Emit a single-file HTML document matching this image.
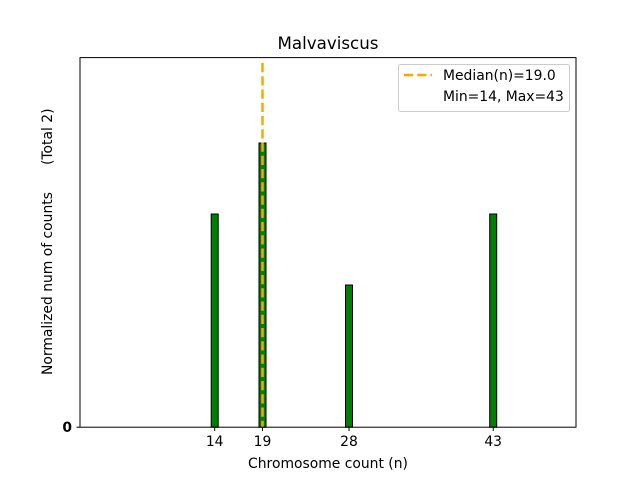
<!DOCTYPE html>
<html><head><meta charset="utf-8"><style>
body{margin:0;background:#fff;}
svg{display:block;font-family:"DejaVu Sans","Liberation Sans",sans-serif;}
</style></head><body>
<svg width="640" height="480" viewBox="0 0 640 480" xmlns="http://www.w3.org/2000/svg">
<rect width="640" height="480" fill="#fff"/>
<text x="328" y="49" font-size="16.7" text-anchor="middle" fill="#000">Malvaviscus</text>
<g fill="#008000" stroke="#000" stroke-width="1">
<rect x="211.2" y="214" width="7" height="213.2"/>
<rect x="259" y="143" width="7" height="284.2"/>
<rect x="345.5" y="285" width="7" height="142.2"/>
<rect x="489.7" y="214" width="7" height="213.2"/>
</g>
<line x1="262.5" y1="63" x2="262.5" y2="427" stroke="#FFA500" stroke-width="2.5" stroke-dasharray="9.25,4"/>
<rect x="80" y="57.6" width="496" height="369.6" fill="none" stroke="#000" stroke-width="1"/>
<g stroke="#000" stroke-width="1">
<line x1="76.5" y1="427.2" x2="80" y2="427.2"/>
<line x1="214.7" y1="427.2" x2="214.7" y2="431"/>
<line x1="262.5" y1="427.2" x2="262.5" y2="431"/>
<line x1="349" y1="427.2" x2="349" y2="431"/>
<line x1="493.2" y1="427.2" x2="493.2" y2="431"/>
</g>
<g font-size="13.9" fill="#000">
<text x="72" y="432" text-anchor="end" font-weight="bold">0</text>
<text x="214.7" y="446" text-anchor="middle">14</text>
<text x="262.5" y="446" text-anchor="middle">19</text>
<text x="349" y="446" text-anchor="middle">28</text>
<text x="493.2" y="446" text-anchor="middle">43</text>
<text x="328" y="468" text-anchor="middle">Chromosome count (n)</text>
<text transform="translate(52,375) rotate(-90)">Normalized num of counts</text>
<text transform="translate(52,165) rotate(-90)">(Total 2)</text>
</g>
<rect x="398.5" y="64.5" width="171" height="47" rx="2" fill="#fff" fill-opacity="0.8" stroke="#ccc"/>
<line x1="404" y1="75" x2="432" y2="75" stroke="#FFA500" stroke-width="2.5" stroke-dasharray="9.25,4"/>
<text x="443" y="80" font-size="13.9">Median(n)=19.0</text>
<text x="443" y="101" font-size="13.9">Min=14, Max=43</text>
</svg>
</body></html>
